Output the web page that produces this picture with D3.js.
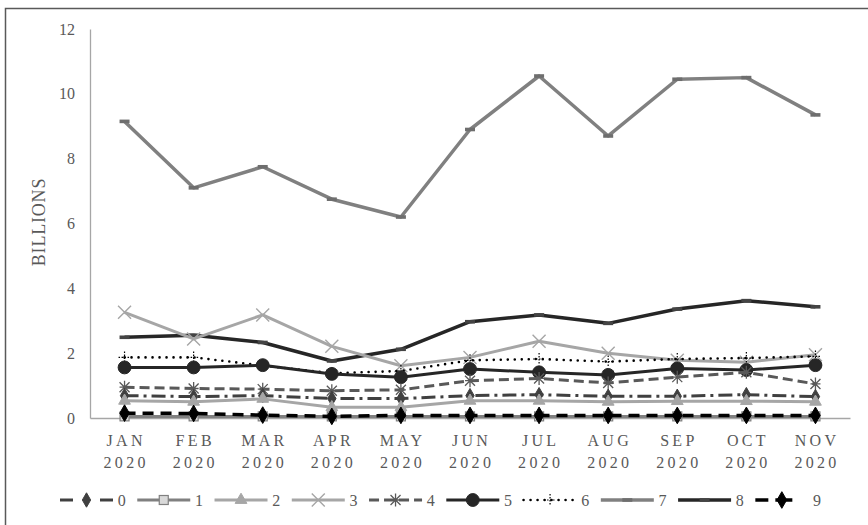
<!DOCTYPE html>
<html>
<head>
<meta charset="utf-8">
<script src="https://cdn.jsdelivr.net/npm/d3@7"></script>
<style>
  html, body { margin: 0; padding: 0; background: #fff; }
  svg { display: block; font-family: "Liberation Serif", "Times New Roman", serif; }
</style>
</head>
<body>
<svg id="chart" width="868" height="525"></svg>
<script>
// Monthly values, in billions
const months = ["JAN", "FEB", "MAR", "APR", "MAY", "JUN", "JUL", "AUG", "SEP", "OCT", "NOV"];
const year = "2020";
const seriesNames = ["0", "1", "2", "3", "4", "5", "6", "7", "8", "9"];

const s0 = [0.69, 0.66, 0.69, 0.60, 0.60, 0.69, 0.72, 0.67, 0.67, 0.72, 0.66];
const s1 = [0.05, 0.05, 0.05, 0.05, 0.05, 0.05, 0.05, 0.05, 0.05, 0.05, 0.05];
const s2 = [0.53, 0.50, 0.59, 0.33, 0.33, 0.53, 0.53, 0.50, 0.52, 0.52, 0.50];
const s3 = [3.26, 2.44, 3.18, 2.21, 1.61, 1.87, 2.37, 2.00, 1.78, 1.72, 1.95];
const s4 = [0.95, 0.91, 0.89, 0.84, 0.87, 1.15, 1.22, 1.08, 1.26, 1.41, 1.05];
const s5 = [1.56, 1.56, 1.63, 1.36, 1.26, 1.51, 1.41, 1.33, 1.53, 1.48, 1.63];
const s6 = [1.87, 1.87, 1.62, 1.38, 1.45, 1.78, 1.82, 1.74, 1.82, 1.85, 1.90];
const s7 = [9.15, 7.10, 7.75, 6.75, 6.20, 8.90, 10.55, 8.70, 10.45, 10.50, 9.35];
const s8 = [2.49, 2.55, 2.33, 1.76, 2.12, 2.97, 3.18, 2.92, 3.36, 3.62, 3.43];
const s9 = [0.15, 0.14, 0.09, 0.05, 0.08, 0.08, 0.08, 0.08, 0.08, 0.08, 0.08];

const yTicks = [0, 2, 4, 6, 8, 10, 12];

const seriesValues = [s0, s1, s2, s3, s4, s5, s6, s7, s8, s9];

// Line and marker styles per series
const styles = [
  { color: "#404040", width: 3, dash: "14,5,3,5", cap: "butt", marker: "diamond", mFill: "#404040", mStroke: "#404040", mSize: 60 },
  { color: "#808080", width: 3, dash: null, cap: "butt", marker: "square", mFill: "#d9d9d9", mStroke: "#808080", mSize: 60 },
  { color: "#a6a6a6", width: 3, dash: null, cap: "butt", marker: "triangle", mFill: "#a6a6a6", mStroke: "#a6a6a6", mSize: 60 },
  { color: "#a6a6a6", width: 3, dash: null, cap: "butt", marker: "x", mFill: "none", mStroke: "#a6a6a6", mSize: 6.5 },
  { color: "#595959", width: 3, dash: "10,5", cap: "butt", marker: "asterisk", mFill: "none", mStroke: "#595959", mSize: 5 },
  { color: "#262626", width: 3, dash: null, cap: "butt", marker: "circle", mFill: "#262626", mStroke: "#262626", mSize: 130 },
  { color: "#000000", width: 2.6, dash: "0,7", cap: "round", marker: "plus", mFill: "none", mStroke: "#000000", mSize: 6 },
  { color: "#808080", width: 3.5, dash: null, cap: "butt", marker: "bar", mFill: "#6e6e6e", mStroke: "#6e6e6e", mSize: 0 },
  { color: "#262626", width: 3.5, dash: null, cap: "butt", marker: "bar", mFill: "#444444", mStroke: "#444444", mSize: 0 },
  { color: "#000000", width: 3.5, dash: "11,7", cap: "butt", marker: "diamond", mFill: "#000000", mStroke: "#000000", mSize: 80 }
];

const svg = d3.select("#chart");

// Outer frame
svg.append("rect")
  .attr("x", 5.5).attr("y", 8.5)
  .attr("width", 900).attr("height", 540)
  .attr("fill", "none").attr("stroke", "#595959").attr("stroke-width", 1.5);

const plot = { left: 90, right: 850, top: 29, bottom: 418 };

const x = d3.scaleBand().domain(months).range([plot.left, plot.right]).padding(0);
const y = d3.scaleLinear().domain([0, 12]).range([plot.bottom, plot.top]);
const cx = m => x(m) + x.bandwidth() / 2;

// Y axis
const yAxis = svg.append("g")
  .attr("transform", `translate(${plot.left},0)`)
  .call(d3.axisLeft(y).tickValues(yTicks).tickSize(0).tickPadding(15).tickFormat(d3.format("d")));
yAxis.select(".domain").attr("stroke", "#a6a6a6").attr("stroke-width", 1.3);
yAxis.selectAll("text")
  .attr("fill", "#595959").attr("font-size", 16)
  .attr("font-family", "Liberation Serif, serif");

// X axis
const xAxis = svg.append("g")
  .attr("transform", `translate(0,${plot.bottom})`)
  .call(d3.axisBottom(x).tickSize(0).tickFormat(""));
xAxis.select(".domain").attr("stroke", "#a6a6a6").attr("stroke-width", 1.3);
xAxis.selectAll(".tick").each(function (m) {
  const t = d3.select(this).append("text")
    .attr("fill", "#595959").attr("font-size", 16)
    .attr("font-family", "Liberation Serif, serif")
    .attr("text-anchor", "middle")
    .style("letter-spacing", "3.3px");
  t.append("tspan").attr("x", 1.6).attr("y", 28).text(m);
  t.append("tspan").attr("x", 1.6).attr("y", 50).text(year);
});

// Axis title
svg.append("text")
  .attr("transform", `translate(45,222) rotate(-90)`)
  .attr("text-anchor", "middle")
  .attr("fill", "#595959").attr("font-size", 18)
  .style("letter-spacing", "0.8px")
  .text("BILLIONS");

// Marker drawing
function drawMarker(g, st) {
  switch (st.marker) {
    case "diamond":
      g.append("path").attr("d", d3.symbol(d3.symbolDiamond, st.mSize)())
        .attr("fill", st.mFill).attr("stroke", st.mStroke).attr("stroke-width", 1);
      break;
    case "square":
      g.append("rect").attr("x", -4.5).attr("y", -4.5).attr("width", 9).attr("height", 9)
        .attr("fill", st.mFill).attr("stroke", st.mStroke).attr("stroke-width", 1.2);
      break;
    case "triangle":
      g.append("path").attr("d", d3.symbol(d3.symbolTriangle, st.mSize)())
        .attr("fill", st.mFill).attr("stroke", st.mStroke).attr("stroke-width", 1);
      break;
    case "circle":
      g.append("circle").attr("r", Math.sqrt(st.mSize / Math.PI))
        .attr("fill", st.mFill).attr("stroke", st.mStroke);
      break;
    case "x": {
      const s = st.mSize;
      g.append("path").attr("d", `M${-s},${-s}L${s},${s}M${-s},${s}L${s},${-s}`)
        .attr("stroke", st.mStroke).attr("stroke-width", 1.4).attr("fill", "none");
      break;
    }
    case "asterisk": {
      const s = st.mSize;
      g.append("path").attr("d", `M${-s},${-s}L${s},${s}M${-s},${s}L${s},${-s}M0,${-s * 1.3}L0,${s * 1.3}M${-s},0L${s},0`)
        .attr("stroke", st.mStroke).attr("stroke-width", 1.3).attr("fill", "none");
      break;
    }
    case "plus": {
      const s = st.mSize;
      g.append("path").attr("d", `M0,${-s}L0,${s}M${-s},0L${s},0`)
        .attr("stroke", st.mStroke).attr("stroke-width", 1.2).attr("stroke-dasharray", "1.5,1.5").attr("fill", "none");
      break;
    }
    case "bar":
      g.append("rect").attr("x", -5).attr("y", -1.8).attr("width", 10).attr("height", 3.6)
        .attr("fill", st.mFill);
      break;
  }
}

const line = d3.line().x((d, i) => cx(months[i])).y(d => y(d));

// Draw from the last series to the first so lower-indexed series sit on top
const order = [7, 8, 3, 6, 5, 4, 0, 2, 1, 9];
order.forEach(k => {
  const st = styles[k];
  const vals = seriesValues[k];
  const g = svg.append("g").attr("class", "series-" + k);
  g.append("path").datum(vals)
    .attr("d", line)
    .attr("fill", "none")
    .attr("stroke", st.color)
    .attr("stroke-width", st.width)
    .attr("stroke-linecap", st.cap)
    .attr("stroke-linejoin", "round")
    .attr("stroke-dasharray", st.dash);
  vals.forEach((v, i) => {
    const mg = g.append("g").attr("transform", `translate(${cx(months[i])},${y(v)})`);
    drawMarker(mg, st);
  });
});

// Legend
const legend = svg.append("g").attr("transform", "translate(60,500)");
seriesNames.forEach((name, k) => {
  const st = styles[k];
  const item = legend.append("g").attr("transform", `translate(${k * 77.26},0)`);
  // Series 0 and 9 show as short dash / marker / short dash
  const segs = k === 0 ? [[0, 13], [40, 53]]
             : k === 9 ? [[0, 13], [20, 37]]
             : [[0, 53]];
  segs.forEach(([a, b]) => {
    item.append("line")
      .attr("x1", a).attr("x2", b).attr("y1", 0).attr("y2", 0)
      .attr("stroke", st.color).attr("stroke-width", st.width)
      .attr("stroke-linecap", st.cap)
      .attr("stroke-dasharray", k === 0 || k === 9 ? null : st.dash);
  });
  const mg = item.append("g").attr("transform", "translate(26.5,0)");
  drawMarker(mg, st);
  item.append("text")
    .attr("x", 61.7).attr("y", 5.5)
    .attr("text-anchor", "middle")
    .attr("fill", "#595959").attr("font-size", 16)
    .text(name);
});
</script>
</body>
</html>
